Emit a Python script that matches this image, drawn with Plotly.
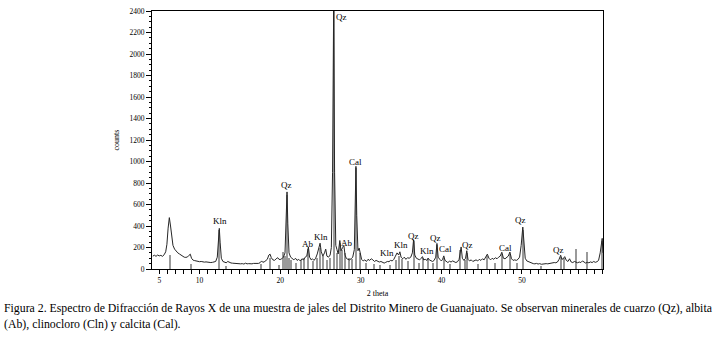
import plotly.graph_objects as go

# ---- data ----
two_theta = [4.2,4.4,4.6,4.8,5.0,5.2,5.4,5.6,5.8,5.95,6.1,6.25,6.4,6.55,6.7,6.9,7.1,7.3,7.5,7.7,7.9,8.1,8.3,8.5,8.7,8.85,
             9.0,9.2,9.4,9.6,9.8,10.0,10.2,10.4,10.6,10.8,11.0,11.2,11.4,11.6,11.8,12.0,12.2,12.35,12.45,12.55,12.7,12.9,
             13.1,13.3,13.5,13.7,13.9,14.1,14.3,14.5,14.7,14.9,15.1,15.3,15.5,15.7,15.9,16.1,16.3,16.5,16.7,16.9,17.1,17.3,
             17.5,17.7,17.85,18.1,18.4,18.6,18.75,18.9,19.1,19.3,19.5,19.7,19.85,20.0,20.2,20.4,20.6,20.75,20.85,20.95,
             21.1,21.3,21.5,21.7,21.9,22.1,22.3,22.5,22.7,22.9,23.1,23.3,23.5,23.65,23.85,24.0,24.2,24.4,24.6,24.8,24.95,
             25.1,25.3,25.5,25.65,25.8,26.0,26.2,26.35,26.5,26.63,26.75,26.9,27.05,27.2,27.4,27.55,27.75,27.9,28.05,28.2,
             28.4,28.6,28.8,29.0,29.2,29.3,29.4,29.5,29.65,29.8,29.95,30.1,30.3,30.5,30.7,30.9,31.1,31.3,31.5,31.7,31.9,
             32.1,32.3,32.5,32.7,32.9,33.1,33.3,33.5,33.7,33.9,34.1,34.3,34.5,34.7,34.85,35.0,35.2,35.4,35.6,35.8,36.0,
             36.2,36.4,36.55,36.7,36.9,37.1,37.3,37.5,37.65,37.8,38.0,38.2,38.35,38.5,38.7,38.9,39.1,39.3,39.45,39.6,39.8,
             40.0,40.15,40.3,40.45,40.6,40.8,41.0,41.2,41.4,41.6,41.8,42.0,42.2,42.45,42.6,42.8,43.0,43.15,43.3,43.5,43.7,
             43.9,44.1,44.3,44.5,44.7,44.9,45.1,45.3,45.5,45.7,45.9,46.1,46.3,46.5,46.7,46.9,47.1,47.3,47.5,47.7,47.9,48.1,
             48.3,48.5,48.7,48.9,49.1,49.3,49.5,49.7,49.9,50.1,50.25,50.4,50.6,50.8,51.0,51.2,51.4,51.6,51.8,52.0,52.2,
             52.4,52.6,52.8,53.0,53.2,53.4,53.6,53.8,54.0,54.2,54.4,54.6,54.8,54.95,55.1,55.3,55.5,55.7,55.9,56.1,56.3,
             56.5,56.7,56.9,57.1,57.3,57.5,57.7,57.9,58.1,58.3,58.5,58.7,58.9,59.1,59.3,59.5,59.7,59.95,60.05]
counts = [120,128,118,130,122,127,118,132,160,230,380,478,400,280,220,185,165,150,140,128,118,110,108,112,128,138,
          100,82,78,74,72,68,70,66,64,66,62,64,60,62,64,70,110,280,378,250,100,70,
          62,58,70,62,56,54,52,56,50,52,48,50,46,54,48,50,46,48,52,50,54,52,
          58,75,62,70,90,130,138,105,85,80,95,105,90,88,95,110,150,450,717,420,
          150,110,95,85,100,80,90,75,95,85,110,120,205,110,85,95,80,100,140,215,240,
          160,120,150,185,120,110,130,200,900,2400,900,220,180,140,265,170,200,220,130,100,
          90,85,95,110,180,500,955,500,170,195,120,90,75,85,70,90,80,95,85,70,80,
          75,65,70,60,55,62,70,68,80,75,90,120,150,130,160,110,95,110,90,105,100,
          110,150,272,130,100,90,85,100,115,85,90,80,102,85,80,70,80,110,238,110,90,
          75,90,122,80,70,60,72,65,75,70,60,68,90,205,100,80,100,170,90,75,85,
          70,78,85,75,90,80,95,85,110,138,100,85,100,90,105,95,110,120,156,100,95,105,
          120,158,95,80,85,80,90,110,220,390,200,100,75,68,60,55,50,48,52,46,50,
          44,48,45,50,48,52,50,55,60,58,65,90,128,90,95,115,80,70,95,65,60,
          70,62,58,65,60,75,65,55,62,58,66,60,70,62,68,80,150,285,150]

# reference pattern sticks (grey)
stick_pos = [6.35,8.9,12.4,13.3,17.6,18.75,19.9,20.3,20.55,20.85,21.1,21.3,22.0,22.6,23.0,23.5,24.1,24.6,24.9,25.3,
             25.8,26.2,26.63,27.05,27.4,27.7,28.1,28.5,28.9,29.4,29.85,30.6,31.6,32.4,33.6,34.4,34.8,35.1,35.9,36.55,
             37.2,37.7,38.4,39.0,39.45,40.3,41.1,42.35,42.95,43.15,44.6,45.65,46.7,47.5,48.55,49.4,50.1,52.3,54.8,55.2,
             56.7,58.1,59.95]
stick_h = [128,50,360,30,50,100,40,158,120,690,100,80,60,80,100,190,70,100,200,120,
           80,100,2400,150,240,180,150,100,90,940,150,60,50,40,40,80,120,90,70,260,
           60,100,90,60,220,100,50,180,80,150,50,120,60,140,140,60,360,30,110,100,
           190,160,260]

peak_labels = ["Qz","Cal","Qz","Kln","Ab","Kln","Ab","Kln","Kln","Qz","Kln","Qz","Cal","Qz","Cal","Qz","Qz"]
label_x = [27.64,29.4,20.83,12.55,23.44,25.06,28.29,33.3,35.0,36.5,38.2,39.26,40.5,43.2,47.95,49.8,54.57]
label_y = [2345,998,785,442,235,302,245,147,220,311,168,290,183,220,199,455,180]

x_label_vals = [5,10,20,30,40,50]
caption_lines = ["Figura 2. Espectro de Difracción de Rayos X de una muestra de jales del Distrito Minero de Guanajuato. Se observan minerales de cuarzo (Qz), albita",
                 "(Ab), clinocloro (Cln) y calcita (Cal)."]

FONT = "Liberation Serif"

fig = go.Figure()
fig.add_trace(go.Bar(x=stick_pos, y=stick_h, width=0.13, marker=dict(color="#9a9a9a", line=dict(width=0)),
                     showlegend=False, hoverinfo="skip"))
fig.add_trace(go.Scatter(x=two_theta, y=counts, mode="lines", line=dict(color="#262626", width=1),
                         showlegend=False))

for t, xv, yv in zip(peak_labels, label_x, label_y):
    fig.add_annotation(x=xv, y=yv, text=t, showarrow=False, font=dict(family=FONT, size=9, color="black"))

xticks = list(range(5, 61))
xtext = [str(v) if v in x_label_vals else "" for v in xticks]

fig.update_layout(
    width=716, height=340,
    margin=dict(l=152, r=113, t=7, b=71),
    paper_bgcolor="white", plot_bgcolor="white",
    font=dict(family=FONT, color="black", size=8),
    xaxis=dict(range=[4.1, 60.05], tickmode="array", tickvals=xticks, ticktext=xtext,
               ticks="outside", ticklen=4, tickwidth=1, tickcolor="black",
               tickfont=dict(family=FONT, size=7.5),
               showline=True, linecolor="black", linewidth=1, mirror=True, showgrid=False, zeroline=False,
               title=dict(text="2 theta", font=dict(family=FONT, size=8), standoff=6)),
    yaxis=dict(range=[0, 2400], dtick=200, tick0=0, ticks="outside", ticklen=5, tickwidth=1, tickcolor="black",
               minor=dict(dtick=50, ticks="outside", ticklen=2.5, tickcolor="black"),
               tickfont=dict(family=FONT, size=7.5),
               showline=True, linecolor="black", linewidth=1, mirror=True, showgrid=False, zeroline=False,
               title=dict(text="counts", font=dict(family=FONT, size=8), standoff=8)),
    bargap=0,
)

for i, line in enumerate(caption_lines):
    fig.add_annotation(xref="paper", yref="paper", x=0, y=0, xanchor="left", yanchor="middle",
                       xshift=-150, yshift=-39 - 16 * i, text=line, showarrow=False,
                       font=dict(family=FONT, size=11.8, color="black"))

fig.write_html("out.html", config={"displayModeBar": False},
               post_script="document.body.style.margin='0';")
